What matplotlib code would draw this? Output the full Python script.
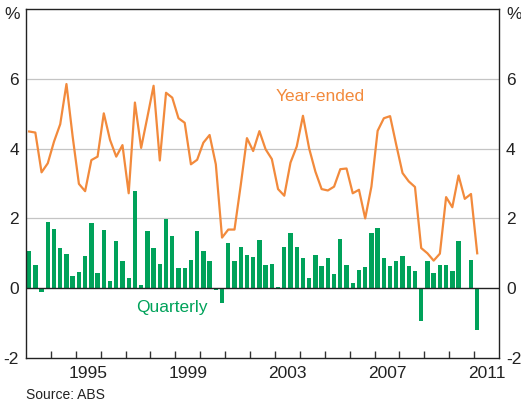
import numpy as np
import matplotlib
matplotlib.use('Agg')
import matplotlib.pyplot as plt
import pandas as pd

plt.rcParams['font.family'] = ['Liberation Sans', 'DejaVu Sans']

# quarters 1993Q1 to 2011Q1
quarters = pd.period_range('1993Q1', '2011Q1', freq='Q')

# quarterly % change (bars)
quarterly = [1.07, 0.67, -0.10, 1.90, 1.70, 1.15, 0.98, 0.35, 0.47, 0.92,
             1.87, 0.44, 1.67, 0.21, 1.35, 0.78, 0.30, 2.78, 0.10, 1.64,
             1.15, 0.70, 1.98, 1.50, 0.58, 0.58, 0.81, 1.64, 1.07, 0.78,
             -0.04, -0.41, 1.30, 0.78, 1.18, 0.95, 0.90, 1.38, 0.67, 0.70,
             0.04, 1.18, 1.58, 1.18, 0.87, 0.30, 0.95, 0.64, 0.87, 0.41,
             1.41, 0.67, 0.15, 0.52, 0.61, 1.58, 1.72, 0.87, 0.64, 0.78,
             0.92, 0.64, 0.50, -0.93, 0.78, 0.44, 0.67, 0.67, 0.50, 1.35,
             0.00, 0.81, -1.19]

# year-ended % change (line)
year_ended = [4.49, 4.46, 3.32, 3.58, 4.20, 4.70, 5.85, 4.34, 2.99, 2.78,
              3.67, 3.77, 5.01, 4.25, 3.77, 4.10, 2.72, 5.32, 4.02, 4.90,
              5.80, 3.66, 5.60, 5.46, 4.87, 4.74, 3.55, 3.68, 4.17, 4.39,
              3.55, 1.45, 1.68, 1.68, 2.95, 4.30, 3.93, 4.50, 3.98, 3.70,
              2.84, 2.65, 3.60, 4.06, 4.94, 4.00, 3.34, 2.84, 2.80, 2.91,
              3.41, 3.43, 2.72, 2.82, 2.00, 2.91, 4.51, 4.87, 4.93, 4.10,
              3.30, 3.06, 2.90, 1.15, 1.00, 0.79, 0.99, 2.61, 2.32, 3.23,
              2.56, 2.70, 1.00]

year_labels = ['1995', '1999', '2003', '2007', '2011']

orange = '#F28A3C'
green = '#00A25A'

x = quarters.year + (quarters.quarter - 0.5) / 4.0

fig = plt.figure(figsize=(5.21, 4.07), dpi=100)
ax = fig.add_axes([26/521, 49/407, 473/521, 349/407])

for g in [2, 4, 6]:
    ax.axhline(g, color='#c4c4c4', lw=0.9, zorder=0)
ax.axhline(0, color='#222222', lw=1.0, zorder=3)

ax.bar(x, quarterly, width=0.175, color=green, zorder=2)
ax.plot(x, year_ended, color=orange, lw=1.6, zorder=4)

ax.set_xlim(1993, 2012)
ax.set_ylim(-2, 8)

ax.set_xticks(np.arange(1994, 2012))
ax.set_xticklabels([])
ax.set_xticks([int(y) + 0.5 for y in year_labels], minor=True)
ax.set_xticklabels(year_labels, minor=True)
ax.tick_params(axis='x', which='major', direction='in', length=5, width=1, color='#333333')
ax.tick_params(axis='x', which='minor', length=0, labelsize=12.5, pad=6, labelcolor='#222222')

ax.set_yticks([-2, 0, 2, 4, 6])
ax.set_yticklabels(['-2', '0', '2', '4', '6'])
ax.tick_params(axis='y', length=0, labelsize=12.5, labelleft=True, labelright=True,
               labelcolor='#222222')
ax.tick_params(axis='y', which='major', pad=5)

for s in ax.spines.values():
    s.set_color('#222222')
    s.set_linewidth(1.0)

ax.text(-0.012, 0.983, '%', transform=ax.transAxes, ha='right', va='center', fontsize=12.5, color='#222222')
ax.text(1.015, 0.983, '%', transform=ax.transAxes, ha='left', va='center', fontsize=12.5, color='#222222')

ax.text(2004.8, 5.5, 'Year-ended', color=orange, fontsize=12.5, ha='center', va='center')
ax.text(1998.85, -0.55, 'Quarterly', color=green, fontsize=12.5, ha='center', va='center')

fig.text(26/521, 1 - 395/407, 'Source: ABS', fontsize=10, ha='left', va='center', color='#222222')

fig.savefig('out.png', dpi=100)
